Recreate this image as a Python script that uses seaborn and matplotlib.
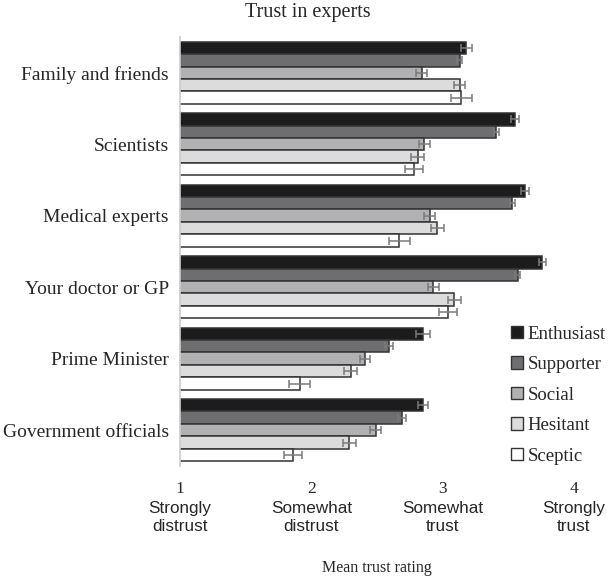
import pandas as pd
import matplotlib.pyplot as plt
import seaborn as sns

# -----------------------------------
# Data
# -----------------------------------
sources = ["Family and friends", "Scientists", "Medical experts",
           "Your doctor or GP", "Prime Minister", "Government officials"]
groups = ["Enthusiast", "Supporter", "Social", "Hesitant", "Sceptic"]

enthusiast = [3.18, 3.55, 3.63, 3.76, 2.85, 2.85]
supporter = [3.13, 3.41, 3.53, 3.57, 2.59, 2.69]
social = [2.84, 2.86, 2.90, 2.93, 2.41, 2.49]
hesitant = [3.13, 2.81, 2.96, 3.09, 2.30, 2.29]
sceptic = [3.14, 2.78, 2.67, 3.04, 1.91, 1.86]

enthusiast_err = [0.04, 0.03, 0.03, 0.03, 0.05, 0.04]
supporter_err = [0.02, 0.02, 0.02, 0.02, 0.03, 0.03]
social_err = [0.04, 0.04, 0.04, 0.04, 0.04, 0.04]
hesitant_err = [0.04, 0.05, 0.05, 0.05, 0.05, 0.05]
sceptic_err = [0.08, 0.07, 0.08, 0.07, 0.08, 0.07]

tick_vals = [1, 2, 3, 4]
tick_words = ["Strongly\ndistrust", "Somewhat\ndistrust", "Somewhat\ntrust", "Strongly\ntrust"]

palette = ["#1c1c1c", "#6e6e70", "#b1b1b3", "#dcdcdc", "#ffffff"]

# -----------------------------------
# Build long table
# -----------------------------------
means = [enthusiast, supporter, social, hesitant, sceptic]
errs = [enthusiast_err, supporter_err, social_err, hesitant_err, sceptic_err]
rows = []
for g, m, e in zip(groups, means, errs):
    for s, v, ev in zip(sources, m, e):
        rows.append({"source": s, "group": g, "rating": v, "err": ev})
df = pd.DataFrame(rows)

sns.set_style("white")
serif = ["Liberation Serif", "DejaVu Serif"]
sans = ["Liberation Sans", "DejaVu Sans"]

fig = plt.figure(figsize=(6.15, 5.78), dpi=100)
ax = fig.add_axes([0.2927, 0.194, 0.6406, 0.742])

sns.barplot(data=df, y="source", x="rating", hue="group", order=sources,
            hue_order=groups, palette=palette, orient="h", width=0.87,
            edgecolor="#333333", linewidth=1.1, errorbar=None, ax=ax)

# error bars placed on the drawn bars
bar_containers = list(ax.containers)
for container, g in zip(bar_containers, groups):
    sub = df[df["group"] == g].set_index("source").loc[sources]
    ys = [p.get_y() + p.get_height() / 2 for p in container.patches]
    ax.errorbar(sub["rating"].values, ys, xerr=sub["err"].values, fmt="none",
                ecolor="#7a7a7a", elinewidth=1.1, capsize=3, capthick=1.1)

ax.set_xlim(1, 4)
ax.set_ylim(5.5, -0.5)
for side in ["top", "right", "bottom"]:
    ax.spines[side].set_visible(False)
ax.spines["left"].set_color("#cccccc")
ax.spines["left"].set_linewidth(1.2)
ax.spines["left"].set_zorder(5)

ax.set_ylabel("")
ax.set_xlabel("Mean trust rating", fontsize=11.5, family=serif, labelpad=45)
ax.tick_params(axis="y", length=0, pad=8)
for lab in ax.get_yticklabels():
    lab.set_fontfamily(serif)
    lab.set_fontsize(14)

ax.set_xticks(tick_vals)
ax.set_xticklabels([str(v) for v in tick_vals], family=serif, fontsize=12.5)
ax.tick_params(axis="x", length=0, pad=11)
for v, w in zip(tick_vals, tick_words):
    ax.annotate(w, xy=(v, 0), xycoords=("data", "axes fraction"),
                xytext=(0, -25), textcoords="offset points", ha="center",
                va="top", fontsize=12.3, family=sans, linespacing=1.25)

fig.suptitle("Trust in experts", fontsize=14.5, family=serif, x=0.5, y=0.995, va="top")

leg = ax.legend(loc="lower left", bbox_to_anchor=(0.82, -0.015),
                frameon=False, prop={"family": serif, "size": 13.5},
                handlelength=0.65, handleheight=0.65, handletextpad=0.25,
                labelspacing=0.72, borderaxespad=0)
for h in leg.legend_handles:
    h.set_edgecolor("#333333")
    h.set_linewidth(1.0)

fig.savefig("out.png", dpi=100)
